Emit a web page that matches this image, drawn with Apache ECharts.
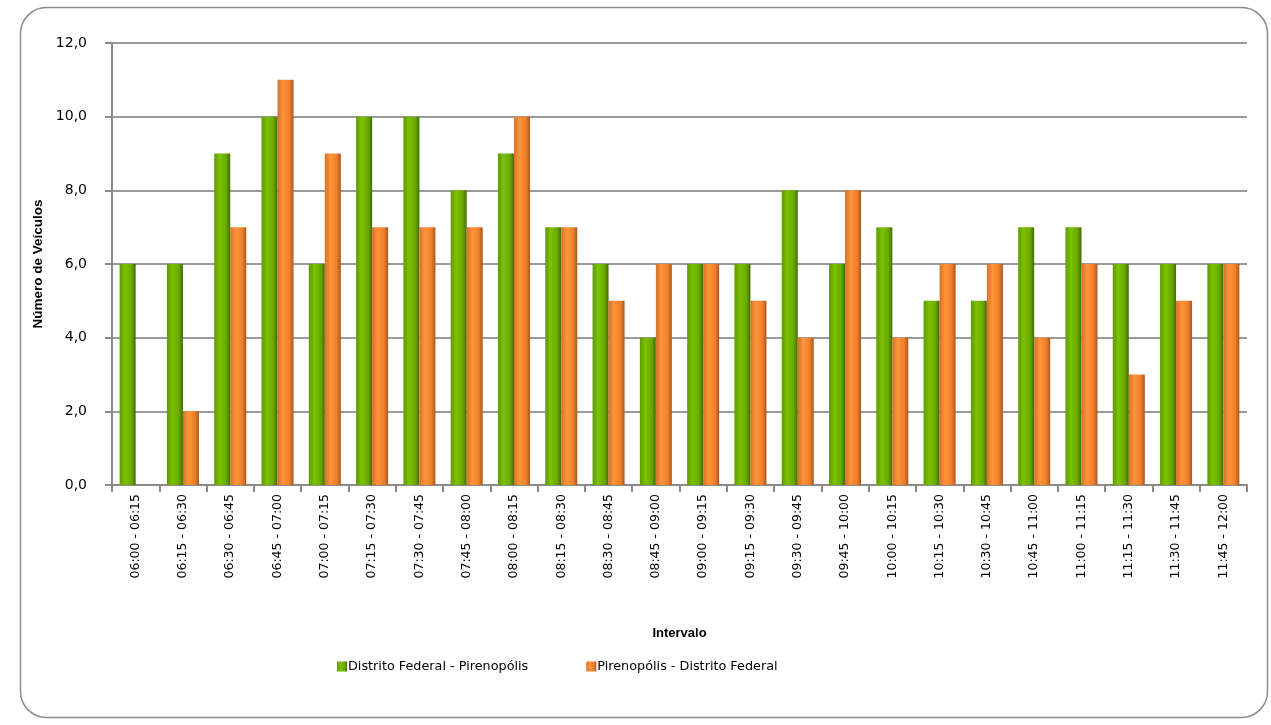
<!DOCTYPE html>
<html><head><meta charset="utf-8">
<script src="https://cdn.jsdelivr.net/npm/echarts@6/dist/echarts.min.js"></script>
<style>html,body{margin:0;padding:0;background:#fff}#c{width:1271px;height:725px}</style>
</head><body><div id="c"></div>
<script>
const categories = ["06:00 - 06:15","06:15 - 06:30","06:30 - 06:45","06:45 - 07:00","07:00 - 07:15","07:15 - 07:30","07:30 - 07:45","07:45 - 08:00","08:00 - 08:15","08:15 - 08:30","08:30 - 08:45","08:45 - 09:00","09:00 - 09:15","09:15 - 09:30","09:30 - 09:45","09:45 - 10:00","10:00 - 10:15","10:15 - 10:30","10:30 - 10:45","10:45 - 11:00","11:00 - 11:15","11:15 - 11:30","11:30 - 11:45","11:45 - 12:00"];
const dfPirenopolis = [6,6,9,10,6,10,10,8,9,7,6,4,6,6,8,6,7,5,5,7,7,6,6,6];
const pirenopolisDf = [0,2,7,11,9,7,7,7,10,7,5,6,6,5,4,8,4,6,6,4,6,3,5,6];
const seriesNames = ["Distrito Federal - Pirenopólis","Pirenopólis - Distrito Federal"];

const font = "'Liberation Sans', Arial, sans-serif";
const lblFont = "'DejaVu Sans', sans-serif";
const greenGrad = new echarts.graphic.LinearGradient(0,0,1,0,[
  {offset:0,color:'#5d9a00'},{offset:0.35,color:'#7cc200'},{offset:0.75,color:'#6aa800'},{offset:1,color:'#3f6c00'}]);
const orangeGrad = new echarts.graphic.LinearGradient(0,0,1,0,[
  {offset:0,color:'#d8702a'},{offset:0.35,color:'#ff953a'},{offset:0.75,color:'#ef7f2c'},{offset:1,color:'#a9561c'}]);

const chart = echarts.init(document.getElementById('c'));
chart.setOption({
  animation:false,
  backgroundColor:'#fff',
  graphic:[{type:'rect',left:18,top:5,shape:{width:1247,height:710,r:26},style:{fill:'none',stroke:'#8c8c8c',lineWidth:1.5},silent:true}],
  legend:{top:655,left:332,itemWidth:10,itemHeight:10,itemGap:58,icon:'rect',
    textStyle:{fontFamily:lblFont,fontSize:12.8,color:'#000',padding:[0,0,0,-4]},data:seriesNames},
  grid:{left:112,right:24,top:43,bottom:240},
  xAxis:{type:'category',data:categories,
    name:'Intervalo',nameLocation:'middle',nameGap:142,
    nameTextStyle:{fontFamily:font,fontWeight:'bold',fontSize:13,color:'#000'},
    axisLine:{lineStyle:{color:'#8a8a8a',width:2}},
    axisTick:{show:true,length:7,lineStyle:{color:'#8a8a8a',width:2}},
    axisLabel:{rotate:90,fontFamily:lblFont,fontSize:12.5,color:'#000',margin:9}},
  yAxis:{type:'value',min:0,max:12,interval:2,
    name:'Número de Veículos',nameLocation:'middle',nameGap:62,
    nameTextStyle:{fontFamily:font,fontWeight:'bold',fontSize:13.5,color:'#000'},
    axisLine:{show:true,lineStyle:{color:'#8a8a8a',width:2}},
    axisTick:{show:true,length:7,lineStyle:{color:'#8a8a8a',width:2}},
    splitLine:{lineStyle:{color:'#9a9a9a',width:2}},
    axisLabel:{fontFamily:lblFont,fontSize:14,color:'#000',margin:25,
      formatter:v=>v.toFixed(1).replace('.',',')}},
  series:[
    {name:seriesNames[0],type:'bar',data:dfPirenopolis,barWidth:16,barGap:'0%',
      itemStyle:{color:greenGrad}},
    {name:seriesNames[1],type:'bar',data:pirenopolisDf,barWidth:16,
      itemStyle:{color:orangeGrad}}
  ]
});
</script></body></html>
